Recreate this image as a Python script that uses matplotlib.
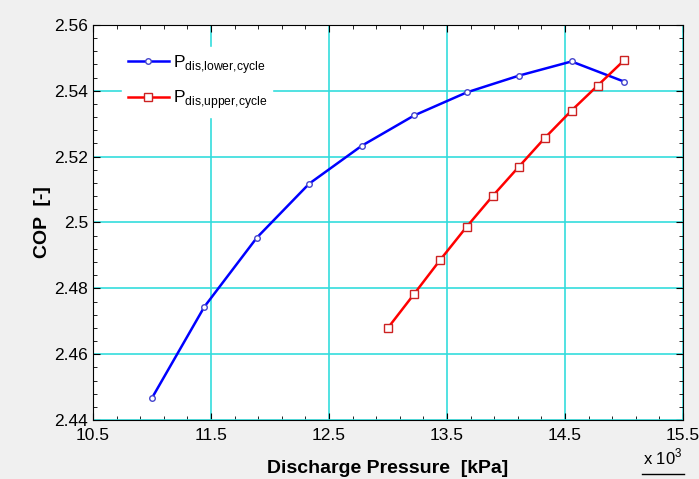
import matplotlib
matplotlib.use("Agg")
import matplotlib.pyplot as plt
from matplotlib.ticker import MultipleLocator, FuncFormatter

# data (discharge pressure in kPa, COP in -)
p_lower = [11000, 11444, 11889, 12333, 12778, 13222, 13667, 14111, 14556, 15000]
cop_lower = [2.4467, 2.4744, 2.4954, 2.5118, 2.5233, 2.5325, 2.5395, 2.5446, 2.5489, 2.5428]

p_upper = [13000, 13222, 13444, 13667, 13889, 14111, 14333, 14556, 14778, 15000]
cop_upper = [2.4680, 2.4783, 2.4887, 2.4987, 2.5081, 2.5170, 2.5258, 2.5340, 2.5416, 2.5492]

plt.rcParams["font.family"] = ["Liberation Sans", "DejaVu Sans"]
plt.rcParams["mathtext.fontset"] = "custom"
plt.rcParams["mathtext.rm"] = "Liberation Sans"

fig = plt.figure(figsize=(6.99, 4.79), dpi=100, facecolor="#f0f0f0")
ax = fig.add_axes([0.133, 0.123, 0.844, 0.825])

ax.plot(p_lower, cop_lower, color="#0000ff", lw=1.8, marker="o", ms=4,
        mfc="white", mec="#4444cc", mew=1.0,
        label=r"P$_{\mathrm{dis{,}lower{,}cycle}}$")
ax.plot(p_upper, cop_upper, color="#ff0000", lw=1.8, marker="s", ms=5.5,
        mfc="white", mec="#cc2222", mew=1.0,
        label=r"P$_{\mathrm{dis{,}upper{,}cycle}}$")

ax.set_xlim(10500, 15500)
ax.set_ylim(2.44, 2.56)
ax.xaxis.set_major_locator(MultipleLocator(1000, offset=500))
ax.xaxis.set_minor_locator(MultipleLocator(200, offset=100))
ax.yaxis.set_major_locator(MultipleLocator(0.02))
ax.yaxis.set_minor_locator(MultipleLocator(0.004))
ax.xaxis.set_major_formatter(FuncFormatter(lambda v, pos: f"{v / 1000:g}"))
ax.yaxis.set_major_formatter(FuncFormatter(lambda v, pos: f"{v:g}"))

ax.tick_params(which="both", direction="in", top=True, right=True, labelsize=12.5)
ax.tick_params(which="major", length=5)
ax.tick_params(which="minor", length=3)
ax.tick_params(axis="x", pad=6)
ax.grid(True, which="major", color="#33dddd", lw=1.2)
ax.set_axisbelow(True)

ax.set_xlabel("Discharge Pressure  [kPa]", fontsize=14, fontweight="bold", labelpad=12)
ax.set_ylabel("COP  [-]", fontsize=14, fontweight="bold", labelpad=2)

fig.text(0.92, 0.025, r"x 10$^3$", fontsize=12, ha="left", va="bottom")
fig.add_artist(plt.Line2D([0.919, 0.978], [0.011, 0.011], color="black", lw=1))

leg = ax.legend(loc="upper left", bbox_to_anchor=(0.035, 0.965), frameon=True,
                fontsize=12.5, handlelength=2.4, handletextpad=0.2,
                labelspacing=0.75, borderpad=0.3)
leg.get_frame().set_facecolor("white")
leg.get_frame().set_edgecolor("white")
leg.get_frame().set_alpha(1)

fig.savefig("out.png", dpi=100, facecolor=fig.get_facecolor())
